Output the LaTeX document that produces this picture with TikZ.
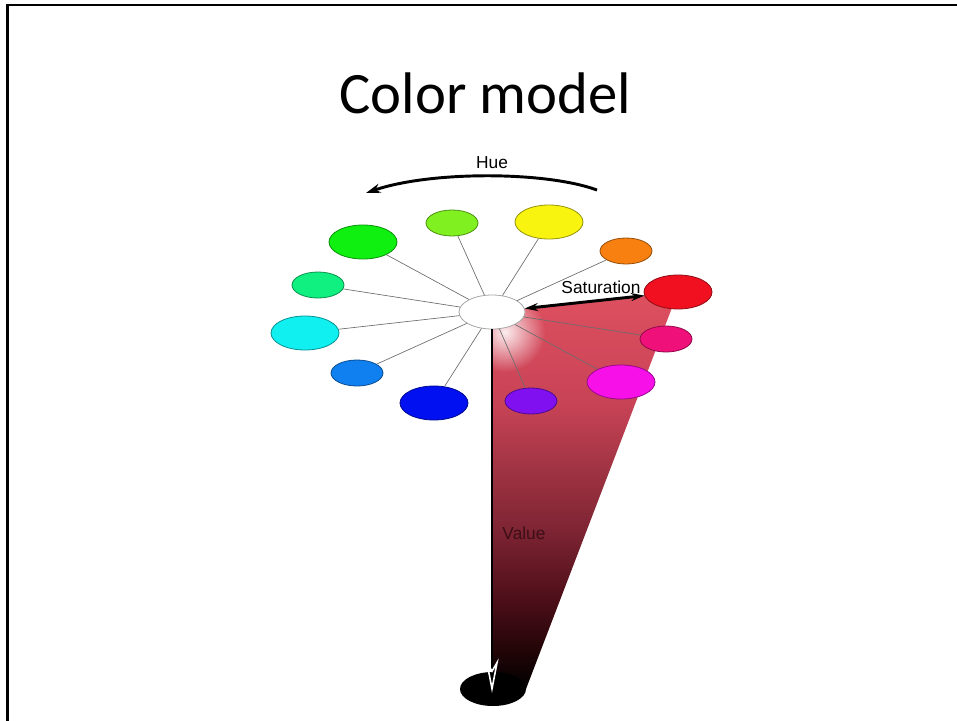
\documentclass[tikz,border=0pt]{standalone}
\usepackage{fontspec}
\setmainfont{Carlito}
\newfontfamily\labelfont{Liberation Sans}
\usetikzlibrary{shapes.geometric, arrows.meta, fadings}
\definecolor{huechart}{HTML}{80F020}
\definecolor{hueyellow}{HTML}{F8F410}
\definecolor{hueorange}{HTML}{F88010}
\definecolor{huered}{HTML}{F01020}
\definecolor{huerose}{HTML}{F0107A}
\definecolor{huemagenta}{HTML}{F810E8}
\definecolor{hueviolet}{HTML}{8010F0}
\definecolor{hueblue}{HTML}{0010F0}
\definecolor{hueazure}{HTML}{1080F0}
\definecolor{huecyan}{HTML}{10F0F0}
\definecolor{huespring}{HTML}{10F080}
\definecolor{huegreen}{HTML}{10F010}
\definecolor{wedgea}{HTML}{DE5060}
\definecolor{wedgeb}{HTML}{C84356}
\definecolor{wedgec}{HTML}{98303F}
\definecolor{wedged}{HTML}{7E2433}
\definecolor{wedgee}{HTML}{4B0E18}
\definecolor{wedgef}{HTML}{230508}
\definecolor{valuetext}{HTML}{3C0E16}
\tikzfading[name=glow, inner color=transparent!0, outer color=transparent!100]
\pgfdeclareverticalshading{wedgefade}{100bp}{color(0bp)=(black); color(25bp)=(black);
  color(30bp)=(wedgef); color(36bp)=(wedgee); color(45bp)=(wedged); color(51bp)=(wedgec);
  color(61bp)=(wedgeb); color(75bp)=(wedgea); color(100bp)=(wedgea)}

\tikzset{
  bigdot/.style={ellipse, draw=#1!60!black, fill=#1, line width=0.6pt,
    minimum width=51pt, minimum height=25.5pt, inner sep=0pt},
  smalldot/.style={ellipse, draw=#1!60!black, fill=#1, line width=0.6pt,
    minimum width=39pt, minimum height=19.5pt, inner sep=0pt},
  spoke/.style={draw=gray!85!black, line width=0.5pt},
  lbl/.style={font=\labelfont\fontsize{13}{15}\selectfont, inner sep=0pt}
}

\begin{document}
\begin{tikzpicture}[x=0.75pt, y=-0.75pt]
    \useasboundingbox (0,0) rectangle (957,721);
    %slide frame
    \draw[line width=1.8pt] (7.5,721) -- (7.5,5) -- (957,5);
    \node[anchor=base, font=\fontsize{44}{50}\selectfont, inner sep=0pt] (title) at (485.5,113) {Color model};
    %the shaded wedge
    \shade[shading=wedgefade]
        (492,312) -- (678,292) -- (526,689) -- (492,689) -- cycle;
    \begin{scope}
        \clip (492,312) -- (678,292) -- (526,689) -- (492,689) -- cycle;
        \fill[white, opacity=0.9, path fading=glow] (505,332) circle (40);
    \end{scope}
    %the hue ellipses
    \node[smalldot=huechart] (chart) at (452,223) {};
    \node[bigdot=hueyellow] (yellow) at (549,222) {};
    \node[smalldot=hueorange] (orange) at (626,251) {};
    \node[bigdot=huered] (red) at (678,292) {};
    \node[smalldot=huerose] (rose) at (666,339) {};
    \node[bigdot=huemagenta] (magenta) at (621,382) {};
    \node[smalldot=hueviolet] (violet) at (531,401) {};
    \node[bigdot=hueblue] (blue) at (434,403) {};
    \node[smalldot=hueazure] (azure) at (357,373) {};
    \node[bigdot=huecyan] (cyan) at (305,333) {};
    \node[smalldot=huespring] (spring) at (318,285) {};
    \node[bigdot=huegreen] (green) at (363,242) {};
    %the hub and the black end
    \node[ellipse, draw=gray!70, fill=white, line width=0.6pt, minimum width=49.5pt, minimum height=25.5pt, inner sep=0pt] (hub) at (492,312) {};
    \node[ellipse, fill=black, minimum width=49.5pt, minimum height=25.5pt, inner sep=0pt] (dark) at (493,689) {};
    %the spokes
    \foreach \c in {chart, yellow, orange, rose, magenta, violet, blue, azure, cyan, spring, green}
        \draw[spoke] (hub) -- (\c);
    %the arrows
    \coordinate (huestart) at (597,190);
    \coordinate (hueend) at (366,193);
    \coordinate (valueend) at (492,693);
    \draw[line width=2.2pt, -{Stealth[length=11pt, width=7pt]}] (huestart) .. controls (545,171) and (430,171) .. (hueend);
    \draw[line width=2.2pt, {Stealth[length=10pt, width=6pt]}-{Stealth[length=10pt, width=6pt]}] (hub) -- (red);
    \draw[line width=2.2pt, -{Stealth[length=26pt, width=10pt, open, white, line width=1.2pt]}] (hub.south) -- (valueend);
    %legends
    \node[lbl] (huelbl) at (492,163) {Hue};
    \node[lbl] (satlbl) at (601,287) {Saturation};
    \node[lbl, text=valuetext] (valuelbl) at (524,533) {Value};
\end{tikzpicture}
\end{document}
